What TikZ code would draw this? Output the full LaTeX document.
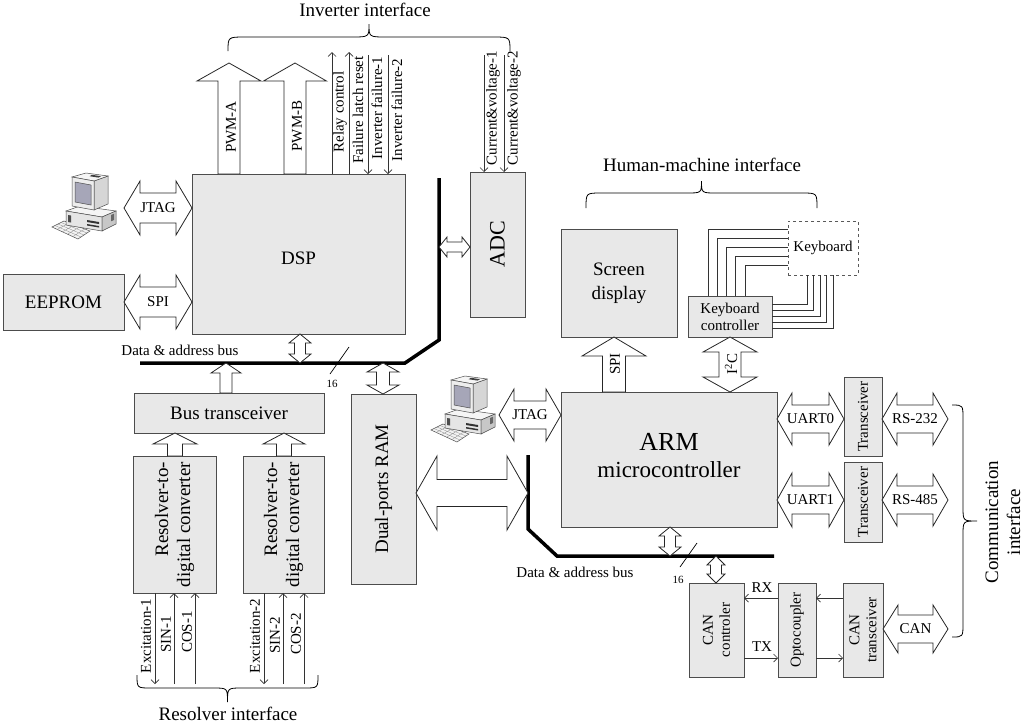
\documentclass[tikz,border=0pt]{standalone}
\usepackage{fontspec}
\setmainfont{Liberation Serif}
\usetikzlibrary{arrows.meta}
% horizontal double block arrow: x1, x2, yc, shaft half, head half, head length
\newcommand\hdarrow[6]{\draw[barrow] (#1,#3) -- ({#1+#6},{#3-#5}) -- ({#1+#6},{#3-#4}) -- ({#2-#6},{#3-#4}) -- ({#2-#6},{#3-#5}) -- (#2,#3) -- ({#2-#6},{#3+#5}) -- ({#2-#6},{#3+#4}) -- ({#1+#6},{#3+#4}) -- ({#1+#6},{#3+#5}) -- cycle;}
% vertical double block arrow: y1, y2, xc, shaft half, head half, head length
\newcommand\vdarrow[6]{\draw[barrow] (#3,#1) -- ({#3-#5},{#1+#6}) -- ({#3-#4},{#1+#6}) -- ({#3-#4},{#2-#6}) -- ({#3-#5},{#2-#6}) -- (#3,#2) -- ({#3+#5},{#2-#6}) -- ({#3+#4},{#2-#6}) -- ({#3+#4},{#1+#6}) -- ({#3+#5},{#1+#6}) -- cycle;}
% upward block arrow: ytip, ybottom, xc, shaft half, head half, head length
\newcommand\upblk[6]{\draw[barrow] (#3,#1) -- ({#3+#5},{#1+#6}) -- ({#3+#4},{#1+#6}) -- ({#3+#4},#2) -- ({#3-#4},#2) -- ({#3-#4},{#1+#6}) -- ({#3-#5},{#1+#6}) -- cycle;}
% horizontal brace: xa, xb, y ends, y straight, y tip, radius
\newcommand\mybraceh[6]{\draw[brace] (#1,#3) .. controls (#1,#4) .. ({#1+#6},#4) -- ({(#1+#2)/2-#6},#4) .. controls ({(#1+#2)/2},#4) .. ({(#1+#2)/2},#5) .. controls ({(#1+#2)/2},#4) .. ({(#1+#2)/2+#6},#4) -- ({#2-#6},#4) .. controls (#2,#4) .. (#2,#3);}
% vertical brace: ya, yb, x ends, x straight, x tip, radius
\newcommand\mybracev[6]{\draw[brace] (#3,#1) .. controls (#4,#1) .. (#4,{#1+#6}) -- (#4,{(#1+#2)/2-#6}) .. controls (#4,{(#1+#2)/2}) .. (#5,{(#1+#2)/2}) .. controls (#4,{(#1+#2)/2}) .. (#4,{(#1+#2)/2+#6}) -- (#4,{#2-#6}) .. controls (#4,#2) .. (#3,#2);}
\tikzset{
  pc/.pic={
    \begin{scope}[line width=0.5pt]
    % keyboard
    \filldraw[draw=black!70, fill=black!5] (0,54) -- (12,48) -- (38,58) -- (26,66) -- cycle;
    \draw[black!45, line width=0.3pt] (3,52.5) -- (29,64) (6,51) -- (32,62) (9,49.5) -- (35,60)
      (5.2,56.4) -- (17.2,50) (10.4,58.8) -- (22.4,52) (15.6,61.2) -- (27.6,54) (20.8,63.6) -- (32.8,56);
    % case
    \filldraw[draw=black!70, fill=black!4] (14,38) -- (28,33) -- (64,38) -- (50,44) -- cycle;
    \filldraw[draw=black!70, fill=black!10] (14,38) -- (50,44) -- (50,58) -- (14,52) -- cycle;
    \filldraw[draw=black!70, fill=black!22] (50,44) -- (64,38) -- (64,51) -- (50,58) -- cycle;
    \fill[black!80] (35,47) -- (47,49) -- (47,51) -- (35,49) -- cycle;
    \fill[black!80] (35,51) -- (47,53) -- (47,54.5) -- (35,52.5) -- cycle;
    \fill[black!70] (16,42) -- (19,42.5) -- (19,49.5) -- (16,49) -- cycle;
    \fill[black!60] (59,42) -- (62,40.7) -- (62,47) -- (59,48.3) -- cycle;
    % monitor
    \filldraw[draw=black!70, fill=black!16] (42,8) -- (56,3) -- (56,31) -- (42,37) -- cycle;
    \filldraw[draw=black!70, fill=black!4] (20,4) -- (34,0) -- (56,3) -- (42,8) -- cycle;
    \filldraw[draw=black!70, fill=black!7] (20,4) -- (42,8) -- (42,37) -- (20,33) -- cycle;
    \filldraw[draw=black!70, fill=blue!20!black!35] (23,9) -- (39,12) -- (39,32) -- (23,29) -- cycle;
    \fill[black!75] (40,1.8) -- (49,3.2) -- (46.5,4.6) -- (37.5,3.2) -- cycle;
    \end{scope}
  }
}
\begin{document}
\begin{tikzpicture}[x=1pt,y=-1pt,
  box/.style={draw=black!70, fill=black!9, line width=0.8pt, inner sep=0pt},
  barrow/.style={draw=black!85, fill=white, line width=0.8pt, line join=miter},
  sig/.style={line width=0.7pt, draw=black!80, -{Straight Barb[length=4pt,width=8pt]}},
  bus/.style={line width=3.5pt, line join=miter},
  lab/.style={font=\fontsize{15}{17}\selectfont, inner sep=0pt},
  big/.style={font=\fontsize{19}{22}\selectfont, inner sep=0pt},
  brace/.style={line width=0.8pt}]
\useasboundingbox (0,0) rectangle (1024,724);

% ---------- boxes ----------
\node[box, minimum width=213pt, minimum height=160pt] (dsp) at (298.5,254) {};
\node[big] (dspt) at (298.5,258) {DSP};
\node[box, minimum width=121pt, minimum height=56pt] (eeprom) at (63.5,302) {};
\node[big] (eepromt) at (63.5,302) {EEPROM};
\node[box, minimum width=55pt, minimum height=145pt] (adc) at (497.5,244.5) {};
\node[font=\fontsize{22}{24}\selectfont, inner sep=0pt, rotate=90] (adct) at (497.5,244.5) {ADC};
\node[box, minimum width=190pt, minimum height=40pt] (bt) at (229,413) {};
\node[big] (btt) at (229,413) {Bus transceiver};
\node[box, minimum width=83pt, minimum height=137pt] (rdc1) at (174.5,524.5) {};
\node[big, rotate=90, align=right] (rdc1t) at (174.5,524.5) {Resolver-to-\\digital converter};
\node[box, minimum width=81pt, minimum height=137pt] (rdc2) at (283.5,524.5) {};
\node[big, rotate=90, align=right] (rdc2t) at (283.5,524.5) {Resolver-to-\\digital converter};
\node[box, minimum width=65pt, minimum height=190pt] (ram) at (383.5,489) {};
\node[big, rotate=90] (ramt) at (383.5,489) {Dual-ports RAM};
\node[box, minimum width=216pt, minimum height=135pt] (arm) at (669,459.5) {};
\node[font=\fontsize{26}{28}\selectfont, inner sep=0pt] (armt1) at (669,442) {ARM};
\node[font=\fontsize{23}{26}\selectfont, inner sep=0pt] (armt2) at (669,470) {microcontroller};
\node[box, minimum width=116pt, minimum height=108pt] (scr) at (619,283) {};
\node[big, align=center] (scrt) at (619,283) {Screen\\[2pt]display};
\node[box, minimum width=84pt, minimum height=41pt] (kc) at (730,316.5) {};
\node[lab, align=center] (kct) at (730,316.5) {Keyboard\\controller};
\node[draw=black!65, dashed, fill=white, line width=0.8pt, minimum width=70pt, minimum height=54pt, inner sep=0pt] (kb) at (823,248) {};
\node[lab] (kbt) at (823,248) {Keyboard};
\node[box, minimum width=38pt, minimum height=79pt] (tr1) at (863,416.5) {};
\node[lab, rotate=90] (tr1t) at (863,416.5) {Transceiver};
\node[box, minimum width=38pt, minimum height=80pt] (tr2) at (863,502) {};
\node[lab, rotate=90] (tr2t) at (863,502) {Transceiver};
\node[box, minimum width=55pt, minimum height=94pt] (canc) at (716.5,630) {};
\node[lab, rotate=90, align=center] (canct) at (716.5,630) {CAN\\controler};
\node[box, minimum width=38pt, minimum height=94pt] (opto) at (797,630) {};
\node[lab, rotate=90] (optot) at (797,630) {Optocoupler};
\node[box, minimum width=40pt, minimum height=94pt] (cant) at (863,630) {};
\node[lab, rotate=90, align=center] (cantt) at (863,630) {CAN\\transceiver};

% ---------- computers ----------
\pic (pcA) at (52,173) {pc};
\pic (pcB) at (431,376) {pc};

% ---------- buses ----------
\draw[bus] (140,363) -- (405,363) -- (439,340) -- (439,178);
\draw[bus] (528,455) -- (528,529) -- (557,556) -- (774,556);
\draw[line width=0.7pt] (349,347) -- (330,374);
\draw[line width=0.7pt] (697,543) -- (680,567);
\node[font=\fontsize{11}{12}\selectfont, inner sep=0pt] (n16a) at (332,384) {16};
\node[font=\fontsize{11}{12}\selectfont, inner sep=0pt] (n16b) at (678,580) {16};
\node[lab] (busa) at (180,350) {Data \& address bus};
\node[lab] (busb) at (575,572) {Data \& address bus};

% ---------- block arrows ----------
\upblk{63}{174}{229}{11}{32}{18}
\upblk{63}{174}{295}{11}{31.5}{18}
\node[lab, rotate=90] (pwma) at (231,127) {PWM-A};
\node[lab, rotate=90] (pwmb) at (297,126) {PWM-B};
\hdarrow{124}{192}{208}{15}{27}{16}
\node[lab] (jtag1) at (158,208) {JTAG};
\hdarrow{124}{192}{302}{15}{27}{16}
\node[lab] (spi1) at (158,302) {SPI};
\vdarrow{334}{363}{300}{5.5}{11}{9}
\hdarrow{439}{470}{247}{5}{10}{8}
\vdarrow{363}{394}{383}{6.5}{16}{9}
\upblk{363}{393}{226}{6}{15}{10}
\upblk{433}{456}{175}{7.5}{22}{11}
\upblk{433}{456}{284}{7.5}{21}{11}
\hdarrow{416}{528}{493}{13.5}{37}{21}
\vdarrow{527}{556}{670}{5.5}{11}{9}
\vdarrow{556}{583}{716}{5.5}{9}{9}
\hdarrow{499}{561}{415}{14}{26}{15}
\node[lab] (jtag2) at (530,415) {JTAG};
\upblk{337}{392}{614}{11.5}{32}{19}
\node[lab, rotate=90] (spi2) at (615,364) {SPI};
\vdarrow{337}{392}{730}{11}{27}{15}
\node[lab, rotate=90] (i2c) at (731,364) {I\textsuperscript{2}C};
\hdarrow{777}{844}{419}{14}{26}{15}
\node[lab] (u0) at (810.5,419) {UART0};
\hdarrow{777}{844}{500}{14}{27}{15}
\node[lab] (u1) at (810.5,500) {UART1};
\hdarrow{882}{948}{419}{14}{26}{15}
\node[lab] (rs232) at (915,419) {RS-232};
\hdarrow{882}{948}{500}{14}{26}{15}
\node[lab] (rs485) at (915,500) {RS-485};
\hdarrow{883}{948}{629}{14}{24}{15}
\node[lab] (can) at (915.5,629) {CAN};

% ---------- signal lines ----------
\draw[sig] (332,174) -- (332,52);
\draw[sig] (349,174) -- (349,52);
\draw[sig] (368,55) -- (368,174);
\draw[sig] (388,55) -- (388,174);
\node[lab, rotate=90] (rc) at (340,112) {Relay control};
\node[lab, rotate=90] (flr) at (358,110) {Failure latch reset};
\node[lab, rotate=90] (if1) at (377,108) {Inverter failure-1};
\node[lab, rotate=90] (if2) at (397,110) {Inverter failure-2};
\draw[sig] (484,55) -- (484,172);
\draw[sig] (504,55) -- (504,172);
\node[lab, rotate=90] (cv1) at (493,108) {Current\&voltage-1};
\node[lab, rotate=90] (cv2) at (514,108) {Current\&voltage-2};

\draw[sig] (155,593) -- (155,684);
\draw[sig] (174,684) -- (174,593);
\draw[sig] (195,684) -- (195,593);
\draw[sig] (264,593) -- (264,684);
\draw[sig] (283,684) -- (283,593);
\draw[sig] (304,684) -- (304,593);
\node[lab, rotate=90] (ex1) at (146,636) {Excitation-1};
\node[lab, rotate=90] (sin1) at (166,634) {SIN-1};
\node[lab, rotate=90] (cos1) at (187,632) {COS-1};
\node[lab, rotate=90] (ex2) at (255,636) {Excitation-2};
\node[lab, rotate=90] (sin2) at (275,635) {SIN-2};
\node[lab, rotate=90] (cos2) at (296,634) {COS-2};

\draw[sig] (778,598) -- (744,598);
\draw[sig] (744,658) -- (778,658);
\draw[sig] (843,598) -- (816,598);
\draw[sig] (816,658) -- (843,658);
\node[lab] (rx) at (762,588) {RX};
\node[lab] (tx) at (762,647) {TX};

% ---------- keyboard wires ----------
\foreach \i in {0,...,4}{
  \draw[line width=0.7pt, black!80] ({708+9.25*\i},296) -- ({708+9.25*\i},{229+9*\i}) -- (788,{229+9*\i});
  \draw[line width=0.7pt, black!80] ({807+6.5*\i},275) -- ({807+6.5*\i},{304+6*\i}) -- (772,{304+6*\i});
}

% ---------- braces ----------
\mybraceh{228}{510}{51}{37}{24}{17}
\node[big] (invi) at (365,10) {Inverter interface};
\mybraceh{586}{817}{208}{193}{181}{15}
\node[big] (hmi) at (702,165) {Human-machine interface};
\mybraceh{137}{318}{675}{688}{702}{14}
\node[big] (resi) at (228,714) {Resolver interface};
\mybracev{405}{637}{952}{963}{977}{14}
\node[big, rotate=90, align=center] (comi) at (1003,522) {Communication\\interface};
\end{tikzpicture}
\end{document}
